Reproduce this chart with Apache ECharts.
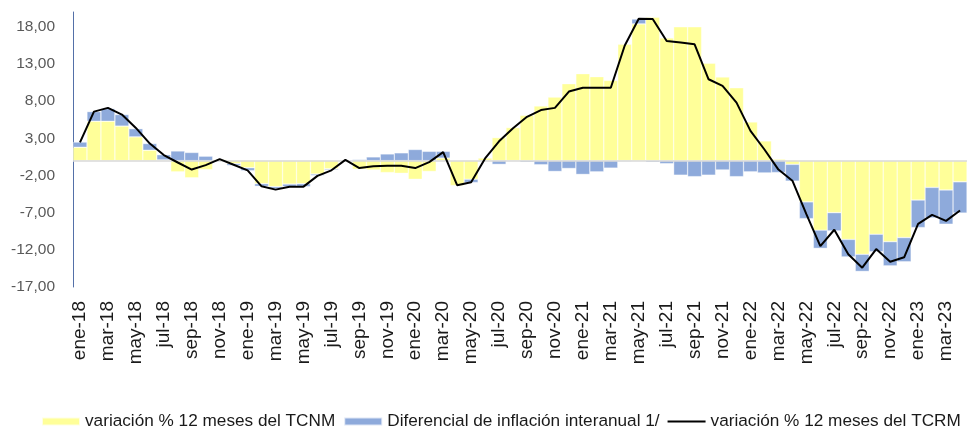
<!DOCTYPE html>
<html>
<head>
<meta charset="utf-8">
<script src="https://cdn.jsdelivr.net/npm/echarts@6/dist/echarts.min.js"></script>
<style>
  html, body { margin: 0; padding: 0; background: #fff; }
  #chart { width: 968px; height: 426px; }
</style>
</head>
<body>
<div id="chart"></div>
<script>
// meses ene-18 .. abr-23
var monthNames = ["ene", "feb", "mar", "abr", "may", "jun", "jul", "ago", "sep", "oct", "nov", "dic"];
var years = ["18", "19", "20", "21", "22", "23"];
var categories = [];
years.forEach(function (y) {
    monthNames.forEach(function (m) {
        if (categories.length < 64) categories.push(m + "-" + y);
    });
});

// variación % 12 meses del TCNM (barras amarillas)
var tcnm = [
    1.8, 5.3, 5.3, 4.65, 3.2, 1.4, 0.1, -1.5, -2.3, -1.2, 0.15, -0.4,
    -0.95, -3.1, -3.5, -3.15, -3.1, -1.8, -1.1, 0.05, -1.15, -1.25, -1.6, -1.7,
    -2.5, -1.45, 0.35, -3.35, -2.5, 0.35, 3.1, 4.45, 6.1, 7.35, 8.55, 10.35,
    11.7, 11.3, 10.8, 15.65, 18.4, 19.3, 16.5, 18.0, 18.0, 13.1, 11.25, 9.8,
    5.2, 2.65, 0.2, -0.5, -5.55, -9.35, -7.0, -10.6, -12.6, -9.9, -10.9, -10.35,
    -5.3, -3.6, -3.95, -2.85
];

// Diferencial de inflación interanual (barras azules)
var diferencial = [
    0.7, 1.3, 1.7, 1.55, 1.1, 0.9, 0.7, 1.3, 1.1, 0.6, 0.05, -0.25,
    -0.4, -0.35, -0.3, -0.35, -0.4, -0.2, -0.15, 0.05, 0.15, 0.5, 0.9, 1.05,
    1.5, 1.25, 0.9, 0.05, -0.45, -0.05, -0.5, -0.05, -0.2, -0.55, -1.45, -1.05,
    -1.85, -1.5, -1.0, -0.1, 0.65, -0.2, -0.4, -1.95, -2.15, -1.95, -1.25, -2.15,
    -1.5, -1.65, -1.6, -2.25, -2.25, -2.45, -2.45, -2.35, -2.3, -2.35, -3.25, -3.25,
    -3.7, -4.1, -4.6, -4.2
];

// variación % 12 meses del TCRM (línea)
var tcrm = [
    2.45, 6.6, 7.1, 6.2, 4.4, 2.3, 0.75, -0.25, -1.2, -0.6, 0.2, -0.55,
    -1.3, -3.45, -3.9, -3.5, -3.5, -2.05, -1.3, 0.1, -1.0, -0.75, -0.7, -0.7,
    -1.0, -0.2, 1.15, -3.3, -2.9, 0.3, 2.6, 4.35, 5.9, 6.8, 7.1, 9.3,
    9.8, 9.8, 9.8, 15.5, 19.1, 19.05, 16.1, 15.9, 15.65, 10.95, 10.05, 7.8,
    4.0, 1.5, -1.2, -2.7, -7.2, -11.5, -9.3, -12.6, -14.4, -11.9, -13.6, -13.0,
    -8.5, -7.3, -8.1, -6.7
];

var fontFamily = 'Arial, "Liberation Sans", sans-serif';
// thin horizontal line inside a 38x8 box, used as legend icon for the line
var lineIcon = "path://M0,0 L38,0 L38,0.01 Z M0,3.1 L38,3.1 L38,4.9 L0,4.9 Z M0,8 L38,8 L38,7.99 Z";

var chart = echarts.init(document.getElementById("chart"));
var option = {
    animation: false,
    textStyle: { fontFamily: fontFamily },
    grid: { left: 73, right: 1, top: 12, bottom: 139, containLabel: false },
    legend: {
        left: 36,
        top: 408,
        width: 935,
        itemWidth: 38,
        itemHeight: 8,
        itemGap: 8,
        textStyle: { fontSize: 17.2, color: "#1a1a1a", fontFamily: fontFamily },
        data: [
            { name: "variación % 12 meses del TCNM", icon: "rect" },
            { name: "Diferencial de inflación interanual 1/", icon: "rect" },
            { name: "variación % 12 meses del TCRM", icon: lineIcon }
        ]
    },
    xAxis: {
        type: "category",
        data: categories,
        axisLine: { show: false },
        axisTick: { show: false },
        axisLabel: {
            interval: 1,
            rotate: 90,
            margin: 14,
            fontSize: 19,
            color: "#1a1a1a",
            fontFamily: fontFamily
        }
    },
    yAxis: {
        type: "value",
        min: -17,
        max: 20,
        interval: 5,
        splitLine: { show: false },
        axisTick: { show: false },
        axisLine: { show: true, lineStyle: { color: "#5470a8", width: 1 } },
        axisLabel: {
            margin: 18,
            fontSize: 15.5,
            color: "#595959",
            fontFamily: fontFamily,
            formatter: function (v) {
                if (v > 18) return "";
                return v.toFixed(2).replace(".", ",");
            }
        }
    },
    series: [
        {
            name: "variación % 12 meses del TCNM",
            type: "bar",
            stack: "total",
            barCategoryGap: "0%",
            data: tcnm,
            itemStyle: { color: "#ffff99", borderColor: "rgba(255,255,255,0.7)", borderWidth: 0.5 },
            markLine: {
                silent: true,
                symbol: "none",
                label: { show: false },
                lineStyle: { color: "#d9d9d9", type: "solid", width: 1.5 },
                data: [{ yAxis: 0 }]
            }
        },
        {
            name: "Diferencial de inflación interanual 1/",
            type: "bar",
            stack: "total",
            barCategoryGap: "0%",
            data: diferencial,
            itemStyle: { color: "#8eaadb", borderColor: "rgba(255,255,255,0.7)", borderWidth: 0.5 }
        },
        {
            name: "variación % 12 meses del TCRM",
            type: "line",
            data: tcrm,
            symbol: "none",
            lineStyle: { color: "#000000", width: 2 },
            itemStyle: { color: "#000000" },
            z: 5
        }
    ]
};
chart.setOption(option);
</script>
</body>
</html>
